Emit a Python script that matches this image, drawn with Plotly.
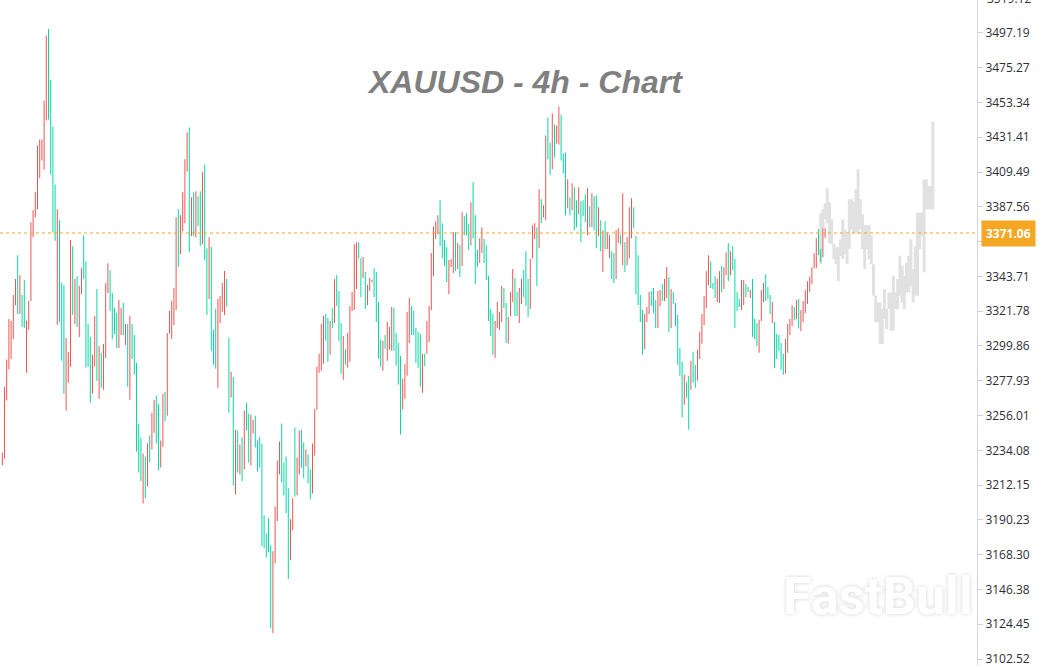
import plotly.graph_objects as go

# ---------------- data (4h bars, high / low, direction) ----------------
highs = [
    3232.6, 3274.1, 3291.3, 3316.8, 3315.6, 3331.9, 3342.0, 3357.1, 3344.5, 3331.9,
    3341.4, 3315.6, 3328.2, 3377.8, 3385.4, 3396.7, 3426.2, 3430.0, 3430.0, 3454.5,
    3495.6, 3499.7, 3467.7, 3438.2, 3401.7, 3386.0, 3379.1, 3339.5, 3338.2, 3304.9,
    3296.1, 3366.5, 3362.7, 3342.0, 3343.9, 3337.6, 3348.9, 3369.6, 3353.3, 3313.7,
    3305.5, 3294.2, 3318.7, 3335.7, 3299.9, 3295.5, 3301.1, 3339.5, 3352.0, 3347.6,
    3333.2, 3323.8, 3320.6, 3328.8, 3323.8, 3326.9, 3313.7, 3313.7, 3318.7, 3313.7,
    3306.8, 3289.2, 3250.9,
    3242.1, 3232.0, 3230.2, 3238.3, 3243.4, 3257.8, 3266.0, 3268.5, 3263.5, 3240.2,
    3269.8, 3271.0, 3308.1, 3321.9, 3328.2, 3336.4, 3381.0, 3386.0, 3382.3, 3396.7,
    3417.5, 3434.4, 3437.6, 3393.6, 3396.7, 3397.3, 3394.2, 3397.3, 3409.3, 3414.3,
    3361.5, 3368.4, 3362.2, 3310.0, 3323.2, 3329.5, 3331.4, 3339.5, 3347.1, 3342.0,
    3305.0, 3283.6, 3280.4, 3247.1, 3246.5, 3237.7, 3242.1, 3259.1, 3264.1, 3257.2,
    3256.6, 3253.4, 3255.9, 3240.2, 3242.7, 3238.3, 3193.1, 3181.8, 3191.2, 3174.2,
    3170.5, 3198.7, 3227.7, 3239.6, 3250.9, 3226.4, 3230.2, 3210.1, 3190.6, 3203.8,
    3248.4, 3229.6, 3246.5, 3247.1, 3239.0, 3234.6, 3231.4, 3222.0, 3238.3, 3260.3,
    3286.7, 3294.9, 3313.8, 3318.8, 3320.0, 3317.5, 3315.6, 3323.8, 3342.0, 3344.5,
    3334.5, 3314.4, 3306.2, 3298.0, 3308.1, 3325.1, 3333.9, 3364.0, 3365.3, 3365.3,
    3355.2, 3355.9, 3346.4, 3338.3, 3342.7, 3341.4, 3348.9, 3346.4, 3327.6, 3303.7,
    3303.1, 3306.8, 3315.0, 3311.9, 3324.4, 3323.8, 3308.1, 3301.8, 3293.6, 3279.2,
    3288.6, 3321.3, 3330.1, 3325.1, 3321.9, 3311.2, 3308.7,
    3307.5, 3294.9, 3294.9, 3315.6, 3325.1, 3358.4, 3375.3, 3378.5, 3382.3, 3391.7,
    3377.2, 3366.5, 3362.1, 3354.0, 3354.6, 3371.6, 3371.6, 3364.7, 3363.4, 3384.1,
    3381.6, 3383.5, 3376.6, 3390.4, 3403.0, 3382.3, 3360.3, 3367.8, 3374.7, 3367.2,
    3363.4, 3343.9, 3323.2, 3320.0, 3315.6, 3327.6, 3321.3, 3337.6, 3336.4, 3326.9,
    3318.1, 3333.9, 3348.3, 3342.7, 3333.9, 3336.4, 3342.0, 3347.7, 3359.6, 3342.0,
    3354.6, 3376.0, 3377.2, 3374.7, 3398.6, 3392.3, 3388.5, 3432.5, 3443.8, 3428.1,
    3446.4, 3439.4, 3438.8, 3450.8,
    3445.7, 3421.2, 3421.8, 3404.9, 3393.6, 3402.4, 3399.9, 3391.7, 3399.9, 3391.1,
    3391.7, 3395.5, 3399.2, 3387.9, 3396.1, 3394.2, 3394.8, 3387.3, 3379.1, 3372.8,
    3378.5, 3371.6, 3369.7, 3359.6, 3358.4, 3372.8, 3374.1, 3369.7, 3396.1, 3365.3,
    3368.4, 3387.3, 3392.9, 3387.3, 3369.1, 3357.1, 3332.0, 3322.5, 3320.0, 3324.4,
    3333.9, 3334.5, 3336.4, 3328.8, 3334.5, 3335.1, 3338.9, 3342.0, 3349.6, 3343.3,
    3335.7, 3333.9, 3326.9, 3319.4, 3298.7, 3289.9, 3281.7, 3277.3, 3281.1, 3290.5,
    3296.2, 3288.0, 3297.4, 3308.7,
    3320.0, 3331.3, 3347.0, 3357.1, 3353.3, 3339.5, 3343.9, 3342.0, 3347.0, 3350.2,
    3349.5, 3359.0, 3364.6, 3359.6, 3362.7, 3354.6, 3333.8, 3329.4, 3341.4, 3341.4,
    3338.9, 3337.0, 3335.1, 3342.0, 3316.9, 3314.4, 3316.2, 3335.1, 3339.5, 3345.1,
    3337.0, 3331.9, 3327.6, 3315.0, 3307.4, 3306.8,
    3301.8, 3294.9, 3304.3, 3313.7, 3316.9, 3325.7, 3324.4, 3328.8, 3329.4, 3322.5,
    3328.2, 3335.1, 3340.7, 3343.5, 3349.5, 3358.3, 3367.8, 3373.4, 3360.9, 3374.0,
    3374.0,
]

lows = [
    3224.7, 3228.9, 3265.5, 3285.0, 3291.7, 3304.3, 3325.6, 3320.0, 3320.0, 3311.8,
    3311.2, 3282.9, 3310.1, 3328.2, 3368.4, 3381.0, 3386.0, 3405.5, 3416.8, 3411.1,
    3441.9, 3442.6, 3408.0, 3371.3, 3366.1, 3313.1, 3314.8, 3290.5, 3269.7, 3259.0,
    3276.6, 3286.7, 3319.4, 3313.7, 3311.8, 3305.5, 3332.6, 3342.0, 3286.1, 3286.7,
    3264.1, 3269.7, 3286.7, 3277.9, 3266.6, 3273.5, 3272.2, 3292.3, 3333.2, 3321.9,
    3304.3, 3307.4, 3298.6, 3298.6, 3306.8, 3306.8, 3300.5, 3274.1, 3265.9, 3291.7,
    3281.7, 3233.3, 3220.1,
    3214.5, 3200.6, 3203.8, 3211.3, 3226.4, 3234.6, 3245.2, 3238.3, 3221.4, 3223.2,
    3236.4, 3252.2, 3255.9, 3307.5, 3304.3, 3313.1, 3322.6, 3349.6, 3357.8, 3372.2,
    3377.2, 3409.9, 3359.0, 3369.1, 3369.1, 3368.4, 3375.4, 3362.8, 3364.0, 3354.0,
    3319.4, 3329.5, 3296.8, 3288.0, 3285.5, 3273.5, 3314.4, 3321.3, 3319.4, 3324.4,
    3257.8, 3267.3, 3211.9, 3206.3, 3220.1, 3218.9, 3214.5, 3222.0, 3246.5, 3226.4,
    3224.5, 3244.6, 3235.8, 3220.7, 3223.2, 3173.6, 3172.3, 3166.7, 3169.8, 3122.1,
    3118.9, 3162.9, 3189.3, 3218.9, 3213.8, 3205.7, 3194.4, 3152.9, 3164.8, 3183.7,
    3205.0, 3205.7, 3218.9, 3223.3, 3216.4, 3223.9, 3213.2, 3203.2, 3206.9, 3230.8,
    3259.7, 3283.0, 3284.2, 3288.6, 3303.1, 3289.9, 3294.3, 3311.2, 3314.4, 3325.1,
    3303.1, 3282.3, 3278.6, 3288.0, 3286.1, 3289.9, 3321.9, 3322.6, 3335.8, 3355.2,
    3330.7, 3342.7, 3323.2, 3325.7, 3334.5, 3340.1, 3330.7, 3315.0, 3291.8, 3286.7,
    3284.2, 3298.0, 3290.5, 3297.4, 3296.8, 3296.8, 3287.4, 3275.4, 3244.0, 3259.7,
    3266.6, 3281.1, 3301.8, 3306.8, 3306.8, 3289.2, 3286.1,
    3274.2, 3270.4, 3287.3, 3294.9, 3302.4, 3322.6, 3343.9, 3367.2, 3370.3, 3362.8,
    3355.2, 3350.2, 3340.1, 3332.6, 3349.6, 3345.8, 3347.1, 3348.3, 3343.3, 3350.2,
    3369.7, 3369.7, 3360.3, 3363.4, 3367.8, 3338.9, 3349.6, 3352.1, 3358.4, 3352.1,
    3341.4, 3315.6, 3306.2, 3294.3, 3292.4, 3311.2, 3310.0, 3315.0, 3323.8, 3301.8,
    3301.2, 3318.8, 3327.6, 3318.8, 3318.8, 3314.4, 3326.3, 3330.7, 3325.1, 3318.1,
    3323.2, 3355.2, 3367.2, 3337.6, 3361.5, 3377.2, 3381.0, 3379.1, 3417.4, 3407.4,
    3411.2, 3418.7, 3427.5, 3426.9,
    3416.8, 3408.6, 3382.3, 3386.7, 3382.3, 3385.4, 3372.8, 3374.7, 3382.9, 3365.3,
    3381.6, 3377.9, 3369.7, 3374.7, 3374.7, 3372.8, 3361.5, 3369.1, 3359.6, 3346.4,
    3360.9, 3360.9, 3355.2, 3342.0, 3339.5, 3342.0, 3364.7, 3364.0, 3350.8, 3346.4,
    3350.8, 3355.2, 3367.8, 3374.1, 3332.6, 3325.7, 3315.0, 3294.3, 3298.0, 3315.0,
    3320.0, 3325.1, 3320.7, 3311.2, 3311.2, 3325.1, 3328.2, 3328.2, 3330.1, 3308.7,
    3311.2, 3326.3, 3312.5, 3288.0, 3281.1, 3254.7, 3262.8, 3267.2, 3247.1, 3272.3,
    3276.7, 3273.5, 3277.9, 3291.7,
    3301.2, 3313.1, 3323.8, 3338.2, 3336.4, 3335.7, 3330.1, 3327.6, 3326.9, 3333.8,
    3335.7, 3344.5, 3340.7, 3344.5, 3347.7, 3311.2, 3321.9, 3324.4, 3322.5, 3325.7,
    3330.7, 3333.8, 3330.1, 3305.6, 3304.3, 3299.9, 3295.5, 3315.6, 3327.6, 3328.2,
    3329.4, 3320.0, 3314.4, 3286.1, 3291.7, 3296.8,
    3284.8, 3281.7, 3282.3, 3295.5, 3306.8, 3312.5, 3316.0, 3316.9, 3310.9, 3309.3,
    3315.0, 3320.6, 3326.3, 3334.0, 3338.8, 3348.9, 3348.9, 3357.1, 3352.7, 3355.8,
    3368.0,
]

# u = rising bar (red), d = falling bar (teal)
directions = (
    "uuuuuuudud duuuuuuuuu uddddudddu uududuuddd duududuuud ddduududud ddd "
    "dududuuddu uduuuuuduu uudududdud duddduuuud dududududd uudddddddd uuuudddduu duuddudduu "
    "uuuuddudud dduduuuuud duduuudddd uduuuddddu uuudddd "
    "duduuuuuud ddduuududu ddduddduud dddduuuudd uuudduuddd uuududuudd uduu "
    "dddududdud ddududdudu duudduudud uuuddddduu uddduuduud uddddduddu dduu "
    "uuuuddduud uududddduu dduddduuud dduddd "
    "dduuuududu uuuuuuudduu"
).replace(" ", "")

# projected (forecast) path drawn in light grey
fc_high = [
    3383.5, 3386.0, 3389.8, 3399.2, 3390.4, 3379.7, 3364.0, 3362.1, 3362.1, 3367.1,
    3379.7, 3373.4, 3370.3, 3392.3, 3392.3, 3391.0, 3398.6, 3411.1, 3392.3, 3382.9,
    3376.0, 3376.0, 3376.0, 3369.7, 3351.4, 3331.5, 3327.3, 3327.3, 3323.1, 3335.7,
    3323.1, 3333.6, 3333.6, 3344.1, 3333.6, 3342.0, 3356.7, 3350.4, 3344.1, 3352.5,
    3356.7, 3367.1, 3348.3, 3362.9, 3383.9, 3383.9, 3383.9, 3404.8, 3404.8, 3400.7,
    3400.7, 3441.3,
]
fc_low = [
    3351.4, 3373.4, 3379.7, 3377.2, 3364.6, 3364.0, 3354.6, 3351.4, 3340.7, 3356.5,
    3354.6, 3357.7, 3351.4, 3360.9, 3373.4, 3370.3, 3371.3, 3370.3, 3373.4, 3360.9,
    3348.3, 3360.9, 3354.6, 3351.4, 3331.5, 3314.8, 3314.8, 3301.1, 3301.1, 3316.9,
    3310.6, 3323.1, 3309.5, 3309.5, 3323.1, 3323.1, 3331.5, 3327.3, 3323.1, 3333.6,
    3333.6, 3337.8, 3327.3, 3331.5, 3331.5, 3360.9, 3369.2, 3346.2, 3386.0, 3386.0,
    3386.0, 3386.0,
]

ytick_vals = [3102.52, 3124.45, 3146.38, 3168.30, 3190.23, 3212.15, 3234.08,
              3256.01, 3277.93, 3299.86, 3321.78, 3343.71, 3365.64, 3387.56,
              3409.49, 3431.41, 3453.34, 3475.27, 3497.19]
top_tick = 3519.12
last_price = 3371.06
title_text = "XAUUSD - 4h - Chart"
watermark = "FastBull"

# ---------------- figure ----------------
UP = "#EF5350"
DOWN = "#00D9A6"
ORANGE = "#F5A623"
Y_RANGE = [3098.75, 3517.93]

n = len(highs)
m = min(n, len(lows), len(directions))
idx = list(range(m))
colors = [UP if d == "u" else DOWN for d in directions[:m]]

fc_start = m - 3
fc_x = list(range(fc_start, fc_start + len(fc_high)))

fig = go.Figure()
fig.add_trace(go.Bar(
    x=fc_x,
    y=[h - l for h, l in zip(fc_high, fc_low)],
    base=fc_low,
    width=1.35,
    marker=dict(color="#E1E1E1", line=dict(width=0)),
    hoverinfo="skip",
))
fig.add_trace(go.Bar(
    x=idx,
    y=[highs[i] - lows[i] for i in idx],
    base=lows[:m],
    width=0.45,
    marker=dict(color=colors, line=dict(width=0)),
    hoverinfo="skip",
))

fig.add_shape(type="line", xref="paper", x0=0, x1=1, yref="y",
              y0=last_price, y1=last_price,
              line=dict(color=ORANGE, width=1, dash="dot"))

top_paper = (top_tick - Y_RANGE[0]) / (Y_RANGE[1] - Y_RANGE[0])

fig.update_layout(
    width=1042, height=667,
    margin=dict(l=0, r=65, t=0, b=0),
    paper_bgcolor="white", plot_bgcolor="white",
    barmode="overlay", showlegend=False,
    xaxis=dict(visible=False, range=[-1.045, 443.05], fixedrange=True),
    yaxis=dict(
        side="right", range=Y_RANGE,
        tickvals=ytick_vals, ticktext=[f"{v:.2f}" for v in ytick_vals],
        showgrid=False, zeroline=False,
        showline=True, linecolor="#D6D6D6", linewidth=1,
        ticks="outside", ticklen=5, tickcolor="#D0D0D0",
        tickfont=dict(family="Open Sans", size=12, color="#2E2E38"),
        ticklabeloverflow="allow",
        fixedrange=True,
    ),
    annotations=[
        dict(text=f"<b><i>{title_text}</i></b>", xref="paper", yref="paper",
             x=525 / 977, y=1 - 82 / 667, xanchor="center", yanchor="middle",
             showarrow=False,
             font=dict(family="Liberation Sans", size=32, color="#7F7F7F")),
        dict(text=f"<b>{last_price:.2f}</b>", xref="paper", yref="y",
             x=1, y=last_price, xanchor="left", yanchor="middle", xshift=4,
             showarrow=False, bgcolor=ORANGE, borderpad=4,
             font=dict(family="Open Sans", size=12, color="white")),
        dict(text=f"{top_tick:.2f}", xref="paper", yref="paper",
             x=1, y=top_paper, xanchor="left", yanchor="middle", xshift=8,
             showarrow=False,
             font=dict(family="Open Sans", size=12, color="#2E2E38")),
        dict(text=f"<b>{watermark}</b>", xref="paper", yref="paper",
             x=878 / 977, y=1 - 598 / 667, xanchor="center", yanchor="middle",
             showarrow=False,
             font=dict(family="Roboto", size=52, color="#FFFFFF",
                       shadow="0px 0px 4px rgba(0,0,0,0.18)")),
    ],
)

fig.write_html("out.html",
               config={"displayModeBar": False, "staticPlot": True},
               post_script="document.body.style.margin='0';"
                           "document.body.style.overflow='hidden';")
